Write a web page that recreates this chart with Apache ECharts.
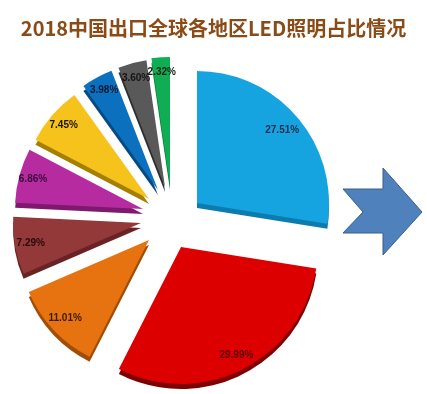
<!DOCTYPE html>
<html><head><meta charset="utf-8">
<script src="https://cdn.jsdelivr.net/npm/echarts@6/dist/echarts.min.js"></script>
<style>html,body{margin:0;padding:0;background:#fff}#c{width:427px;height:394px}</style>
</head><body><div id="c"></div>
<script>
// ---- data ----
const titleText = '2018中国出口全球各地区LED照明占比情况';
const regions = ['地区A', '地区B', '地区C', '地区D', '地区E', '地区F', '地区G', '地区H', '地区I'];
const shares = [27.51, 29.99, 11.01, 7.29, 6.86, 7.45, 3.98, 3.60, 2.32];
const shareLabels = ['27.51%', '29.99%', '11.01%', '7.29%', '6.86%', '7.45%', '3.98%', '3.60%', '2.32%'];

// ---- styles / layout ----
const topColors  = ['#16A4E0', '#DC0000', '#E6730F', '#93393A', '#B62BA0', '#F6C21C', '#0B70BE', '#595959', '#0FAE54'];
const sideColors = ['#0C7CAE', '#7E0000', '#A04E07', '#6A2324', '#7E1A6E', '#A47F00', '#074A80', '#2F2F2F', '#077A37'];
const labelColors = ['#1F2D4F', '#5A0606', '#3A1E00', '#2A0808', '#3A0A3A', '#1A1400', '#0A1A33', '#151515', '#152015'];
const baseCenter = [170, 222];
// explode offset (px) of each slice from the common pie centre
const explode = [[27,-19],[11,25],[-21,18],[-29,1],[-27,-13],[-21,-23],[-12,-32],[-5,-35],[0,-37]];
const radii = [132, 137, 131, 128, 128, 128, 128, 128, 128];
const labelInset = [46, 36, 38, 38, 34, 36, 36, 36, 36];
const depth = 5;

const clear = 'rgba(0,0,0,0)';
const series = [];
shares.forEach((_, i) => {
  const c = [baseCenter[0] + explode[i][0], baseCenter[1] + explode[i][1]];
  const common = {
    type: 'pie', startAngle: 90, clockwise: true, silent: true, animation: false,
    minShowLabelAngle: 0, avoidLabelOverlap: false, labelLine: { show: false },
    labelLayout: { hideOverlap: false }, emphasis: { disabled: true }
  };
  // side (thickness)
  series.push(Object.assign({}, common, {
    z: 1, center: [c[0], c[1] + depth], radius: [0, radii[i]],
    label: { show: false },
    data: shares.map((v, j) => ({ name: regions[j], value: v,
      itemStyle: { color: j === i ? sideColors[i] : clear, borderWidth: 0 } }))
  }));
  // top face
  series.push(Object.assign({}, common, {
    z: 2, center: c, radius: [0, radii[i]],
    label: { show: false },
    data: shares.map((v, j) => ({ name: regions[j], value: v,
      itemStyle: { color: j === i ? topColors[i] : clear, borderWidth: 0 } }))
  }));
  // label ring
  series.push(Object.assign({}, common, {
    z: 3, center: c, radius: [radii[i] - labelInset[i], radii[i]],
    data: shares.map((v, j) => ({ name: regions[j], value: v,
      itemStyle: { color: clear, borderWidth: 0 },
      label: { show: j === i, position: 'inside', formatter: shareLabels[j],
        fontFamily: 'Liberation Sans, Arial, sans-serif', fontSize: 10,
        fontWeight: 'bold', color: labelColors[j] } }))
  }));
});

const chart = echarts.init(document.getElementById('c'), null, { renderer: 'canvas' });
chart.setOption({
  backgroundColor: '#fff',
  animation: false,
  title: {
    text: titleText, left: 'center', top: 13,
    textStyle: { fontFamily: 'Noto Sans CJK SC, sans-serif', fontSize: 20, fontWeight: 'bold', color: '#8A4B16' }
  },
  graphic: [{
    type: 'polygon', z: 10,
    shape: { points: [[343,189],[383,189],[383,168],[422,212],[383,255],[383,233],[343,233],[363,212]] },
    style: { fill: '#4F81BD', stroke: '#3A5F8B', lineWidth: 1 }
  }],
  series: series
});
</script></body></html>
